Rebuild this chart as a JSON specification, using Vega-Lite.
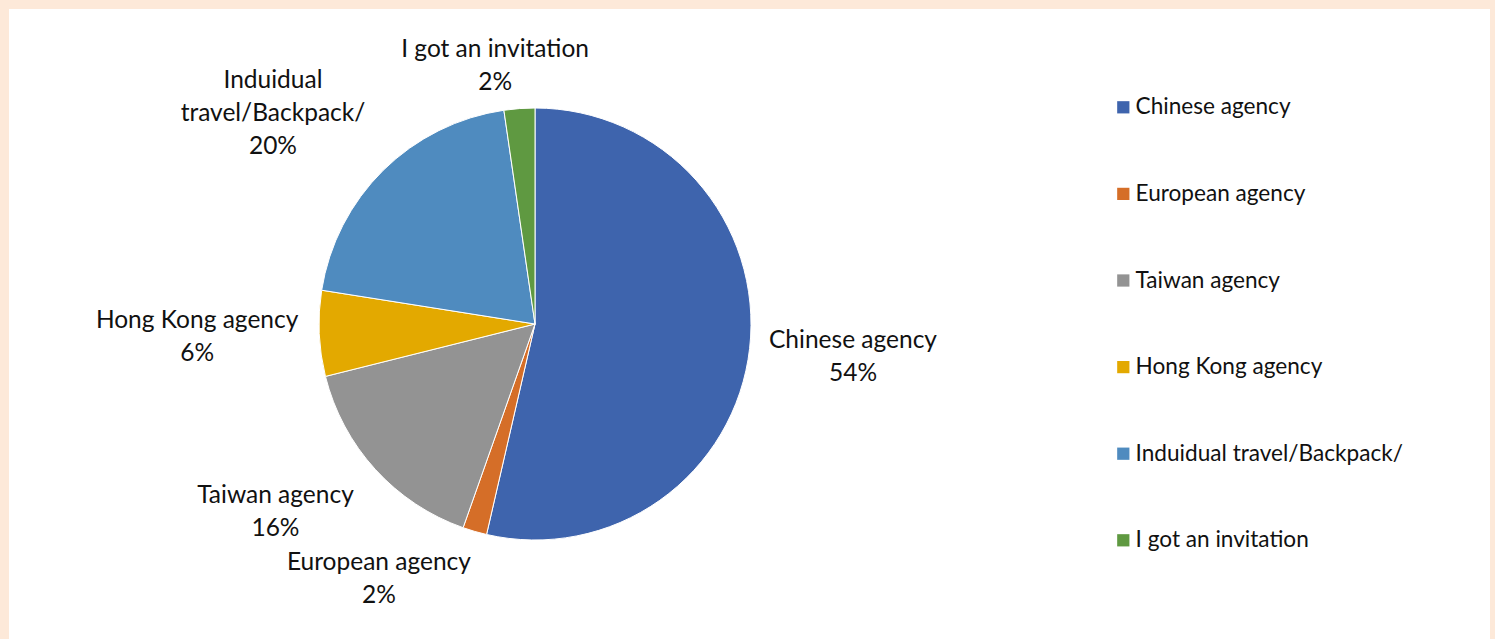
{
  "$schema": "https://vega.github.io/schema/vega-lite/v6.json",
  "background": "#FDE9D9",
  "padding": {"left": 9, "top": 9, "right": 5, "bottom": 0},
  "spacing": 0,
  "datasets": {
    "slices": [
      {"rank": 1, "category": "Chinese agency", "value": 53.6, "label": "Chinese agency\n54%"},
      {"rank": 2, "category": "European agency", "value": 1.8, "label": "European agency\n2%"},
      {"rank": 3, "category": "Taiwan agency", "value": 15.7, "label": "Taiwan agency\n16%"},
      {"rank": 4, "category": "Hong Kong agency", "value": 6.4, "label": "Hong Kong agency\n6%"},
      {"rank": 5, "category": "Induidual travel/Backpack/", "value": 20.2, "label": "Induidual\ntravel/Backpack/\n20%"},
      {"rank": 6, "category": "I got an invitation", "value": 2.3, "label": "I got an invitation\n2%"}
    ]
  },
  "config": {"view": {"fill": "white", "stroke": null}, "font": "Lato"},
  "resolve": {"legend": {"color": "independent"}},
  "hconcat": [
    {
      "width": 1052,
      "height": 630,
      "view": {"fill": "white", "stroke": null},
      "data": {"name": "slices"},
      "transform": [
        {"stack": "value", "groupby": [], "offset": "normalize", "sort": [{"field": "rank", "order": "ascending"}], "as": ["v0", "v1"]}
      ],
      "layer": [
        {
          "mark": {"type": "arc", "outerRadius": 216, "stroke": "white", "strokeWidth": 1},
          "encoding": {
            "theta": {"field": "v0", "type": "quantitative", "stack": null, "scale": {"domain": [0, 1]}},
            "theta2": {"field": "v1"},
            "color": {
              "field": "category", "type": "nominal", "legend": null,
              "scale": {
                "domain": ["Chinese agency", "European agency", "Taiwan agency", "Hong Kong agency", "Induidual travel/Backpack/", "I got an invitation"],
                "range": ["#3E64AD", "#D56E28", "#939393", "#E3A900", "#4F8BBF", "#5F9941"]
              }
            }
          }
        },
        {
          "transform": [{"filter": "datum.rank === 1"}],
          "mark": {"type": "text", "radius": 0, "dx": 318, "dy": 17, "fontSize": 24.5, "lineHeight": 33, "lineBreak": "\n", "align": "center", "baseline": "middle", "color": "#111111"},
          "encoding": {"theta": {"field": "v0", "type": "quantitative", "stack": null}, "text": {"field": "label"}}
        },
        {
          "transform": [{"filter": "datum.rank === 2"}],
          "mark": {"type": "text", "radius": 268, "dx": -96, "dy": -22, "fontSize": 24.5, "lineHeight": 33, "lineBreak": "\n", "align": "center", "baseline": "middle", "color": "#111111"},
          "encoding": {"theta": {"field": "v0", "type": "quantitative", "stack": null}, "text": {"field": "label"}}
        },
        {
          "transform": [{"filter": "datum.rank === 3"}],
          "mark": {"type": "text", "radius": 248, "dx": -177, "dy": -62, "fontSize": 24.5, "lineHeight": 33, "lineBreak": "\n", "align": "center", "baseline": "middle", "color": "#111111"},
          "encoding": {"theta": {"field": "v0", "type": "quantitative", "stack": null}, "text": {"field": "label"}}
        },
        {
          "transform": [{"filter": "datum.rank === 4"}],
          "mark": {"type": "text", "radius": 334, "dx": -8, "dy": 49, "fontSize": 24.5, "lineHeight": 33, "lineBreak": "\n", "align": "center", "baseline": "middle", "color": "#111111"},
          "encoding": {"theta": {"field": "v1", "type": "quantitative", "stack": null}, "text": {"field": "label"}}
        },
        {
          "transform": [{"filter": "datum.rank === 5"}],
          "mark": {"type": "text", "radius": 278, "dx": -222, "dy": 32, "fontSize": 24.5, "lineHeight": 33, "lineBreak": "\n", "align": "center", "baseline": "middle", "color": "#111111"},
          "encoding": {"theta": {"field": "v1", "type": "quantitative", "stack": null}, "text": {"field": "label"}}
        },
        {
          "transform": [{"filter": "datum.rank === 6"}],
          "mark": {"type": "text", "radius": 277, "dx": 0, "dy": 0, "fontSize": 24.5, "lineHeight": 33, "lineBreak": "\n", "align": "center", "baseline": "middle", "color": "#111111"},
          "encoding": {"theta": {"field": "v0", "type": "quantitative", "stack": null}, "text": {"field": "label"}}
        }
      ]
    },
    {
      "width": 429,
      "height": 630,
      "view": {"fill": "white", "stroke": null},
      "data": {"name": "slices"},
      "mark": {"type": "arc", "outerRadius": 0, "radius": 0},
      "encoding": {
        "theta": {"field": "value", "type": "quantitative"},
        "color": {
          "field": "category", "type": "nominal",
          "scale": {
            "domain": ["Chinese agency", "European agency", "Taiwan agency", "Hong Kong agency", "Induidual travel/Backpack/", "I got an invitation"],
            "range": ["#3E64AD", "#D56E28", "#939393", "#E3A900", "#4F8BBF", "#5F9941"]
          },
          "legend": {
            "title": null,
            "orient": "none",
            "legendX": 51,
            "legendY": 87,
            "padding": 0,
            "symbolType": "square",
            "symbolSize": 150,
            "symbolStrokeWidth": 0,
            "symbolOpacity": 1,
            "labelFontSize": 22.6,
            "labelColor": "#111111",
            "labelOffset": 1,
            "labelLimit": 400,
            "rowPadding": 63.6
          }
        }
      }
    }
  ]
}
